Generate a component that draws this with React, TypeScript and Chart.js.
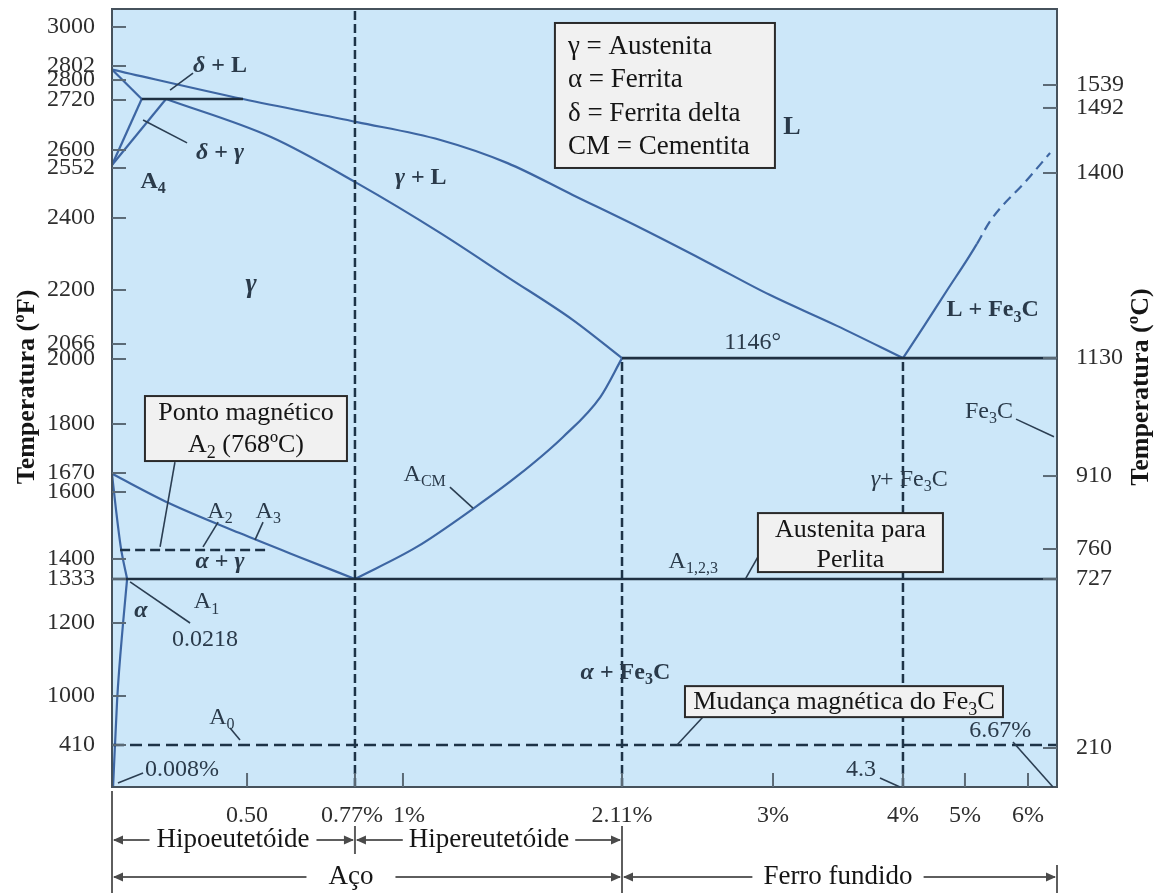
import React, { useEffect, useRef } from 'react';
import { Chart, registerables, LinearScale } from 'chart.js';

Chart.register(...registerables);

// ---------- Axis calibration: value -> fraction of the plot extent (the printed axes are not linear) ----------
const X_KNOT_VALUES = [0, 0.5, 0.77, 1, 2.11, 3, 4.3, 5, 6, 6.67];
const X_KNOT_FRACS = [0, 0.1429, 0.2571, 0.3079, 0.5397, 0.6995, 0.837, 0.9026, 0.9693, 1];
const YF_KNOT_VALUES = [0, 410, 1000, 1200, 1333, 1400, 1600, 1670, 1800, 2000, 2066, 2200, 2400, 2552, 2600, 2720, 2800, 2802, 3000, 3090];
const YF_KNOT_FRACS = [0, 0.054, 0.117, 0.2108, 0.2674, 0.2931, 0.3792, 0.4036, 0.4666, 0.5501, 0.5694, 0.6388, 0.7314, 0.7956, 0.8188, 0.883, 0.9087, 0.9267, 0.9769, 1];
const YC_KNOT_VALUES = [0, 210, 727, 760, 910, 1130, 1400, 1492, 1539, 1700];
const YC_KNOT_FRACS = [0, 0.0501, 0.2674, 0.3059, 0.3997, 0.5514, 0.7892, 0.8728, 0.9023, 1];

// ---------- Tick labels ----------
const X_TICK_VALUES = [0.5, 0.77, 1, 2.11, 3, 4.3, 5, 6];
const X_TICK_LABELS = ['0.50', '0.77% ', '  1%', '2.11%', '3%', '4%', '5%', '6%'];
const YF_TICKS = [410, 1000, 1200, 1333, 1400, 1600, 1670, 1800, 2000, 2066, 2200, 2400, 2552, 2600, 2720, 2800, 2802, 3000];
const YC_TICKS = [210, 727, 760, 910, 1130, 1400, 1492, 1539];

// ---------- Phase boundaries (carbon %, temperature °F) ----------
const liquidusC = [0, 0.485, 0.78, 1.19, 1.53, 1.86, 2.22, 2.61, 2.98, 3.64, 4.3];
const liquidusF = [2801.5, 2724, 2667, 2624, 2565, 2470, 2372, 2278, 2188, 2111, 2004];
const solidusC = [0.2, 0.56, 0.78, 1.19, 1.53, 1.86, 2.11];
const solidusF = [2724, 2631, 2506, 2358, 2236, 2126, 2004];
const deltaSolidusC = [0, 0.11];
const deltaSolidusF = [2801.5, 2724];
const peritecticC = [0.11, 0.485];
const peritecticF = [2724, 2724];
const deltaGammaC = [0, 0.11];
const deltaGammaF = [2560, 2724];
const gammaDeltaC = [0, 0.2];
const gammaDeltaF = [2560, 2724];
const a3C = [0, 0.21, 0.47, 0.63, 0.77];
const a3F = [1667, 1567, 1478, 1406, 1333];
const alphaGammaC = [0, 0.015, 0.033, 0.056];
const alphaGammaF = [1667, 1546, 1433, 1333];
const alphaSolvusC = [0.004, 0.019, 0.041, 0.056];
const alphaSolvusF = [0, 952, 1200, 1333];
const acmC = [0.77, 1.07, 1.36, 1.58, 1.81, 2.0, 2.11];
const acmF = [1333, 1436, 1552, 1659, 1765, 1883, 2004];
const cemLiqC = [4.3, 4.53, 4.8, 5.03, 5.19];
const cemLiqF = [2004, 2108, 2200, 2283, 2328];
const cemLiqDashC = [5.19, 5.41, 5.98, 6.51];
const cemLiqDashF = [2328, 2394, 2515, 2592];
const eutecticC = [2.11, 6.67];
const eutecticF = [2004, 2004];
const eutectoidC = [0, 6.67];
const eutectoidF = [1333, 1333];
const a2C = [0.03, 0.557];
const a2F = [1427, 1427];
const a0C = [0, 6.67];
const a0F = [410, 410];
const v077C = [0.77, 0.77];
const v077F = [0, 3090];
const v211C = [2.11, 2.11];
const v211F = [0, 2004];
const v43C = [4.3, 4.3];
const v43F = [0, 2004];

// ---------- Annotations (anchored in data units: carbon %, °F) ----------
type Lbl = { text: string; c: number; t: number; size: number; bold?: boolean };
const PHASE_LABELS: Lbl[] = [
  { text: '{i:δ} + L', c: 0.4, t: 2802, size: 24, bold: true },
  { text: '{i:δ} + {i:γ}', c: 0.4, t: 2593, size: 24, bold: true },
  { text: 'A{s:4}', c: 0.152, t: 2509, size: 24, bold: true },
  { text: '{i:γ}', c: 0.51, t: 2214, size: 27, bold: true },
  { text: '{i:γ} + L', c: 1.09, t: 2522, size: 24, bold: true },
  { text: 'L', c: 3.19, t: 2655, size: 26, bold: true },
  { text: '1146°', c: 2.88, t: 2068, size: 24 },
  { text: 'L + Fe{s:3}C', c: 5.44, t: 2150, size: 24, bold: true },
  { text: 'A{s:2}', c: 0.4, t: 1540, size: 24 },
  { text: 'A{s:3}', c: 0.553, t: 1540, size: 24 },
  { text: '{i:α} + {i:γ}', c: 0.4, t: 1390, size: 24, bold: true },
  { text: 'A{s:1}', c: 0.35, t: 1263, size: 24 },
  { text: '{i:α}', c: 0.107, t: 1236, size: 24, bold: true },
  { text: '0.0218', c: 0.344, t: 1153, size: 24 },
  { text: 'A{s:0}', c: 0.407, t: 735, size: 24 },
  { text: '0.008%', c: 0.259, t: 166, size: 24 },
  { text: 'A{s:CM}', c: 1.11, t: 1665, size: 24 },
  { text: '{i:γ}+ Fe{s:3}C', c: 4.37, t: 1646, size: 24 },
  { text: 'Fe{s:3}C', c: 5.38, t: 1837, size: 24 },
  { text: 'A{s:1,2,3}', c: 2.53, t: 1390, size: 24 },
  { text: '{i:α} + Fe{s:3}C', c: 2.13, t: 1063, size: 24, bold: true },
  { text: '6.67%', c: 5.56, t: 578, size: 24 },
  { text: '4.3', c: 3.88, t: 166, size: 24 },
];

const POINTERS: [number, number, number, number][] = [
  [0.215, 2760, 0.3, 2801],
  [0.115, 2672, 0.278, 2617],
  [0.233, 1699, 0.178, 1436],
  [0.393, 1510, 0.337, 1436],
  [0.54, 1510, 0.52, 1457],
  [0.067, 1324, 0.289, 1200],
  [0.437, 615, 0.474, 470],
  [0.022, 39, 0.115, 137],
  [1.238, 1618, 1.355, 1552],
  [5.81, 1815, 6.6, 1766],
  [2.84, 1336, 2.911, 1406],
  [2.587, 747, 2.434, 410],
  [5.762, 446, 6.577, 0],
  [4.07, 88, 4.27, 0],
];

type Box = { lines: string[]; c: number; t: number; w: number; h: number; align: 'left' | 'center'; size: number; first: number; gap: number };
const INFO_BOXES: Box[] = [
  { lines: ['γ = Austenita', 'α = Ferrita', 'δ = Ferrita delta', 'CM = Cementita'], c: 1.77, t: 3020, w: 220, h: 145, align: 'left', size: 27, first: 24, gap: 33.3 },
  { lines: ['Ponto magnético', 'A{s:2} (768ºC)'], c: 0.122, t: 1886, w: 202, h: 65, align: 'center', size: 26, first: 17, gap: 32 },
  { lines: ['Austenita para', 'Perlita'], c: 2.911, t: 1537, w: 185, h: 59, align: 'center', size: 26, first: 17, gap: 30 },
  { lines: ['Mudança magnética do Fe{s:3}C'], c: 2.481, t: 1027, w: 318, h: 31, align: 'center', size: 26, first: 16, gap: 0 },
];

const SPANS = [
  { from: 0, to: 0.77, at: 0.448, text: 'Hipoeutetóide', row: 0, gap: 7 },
  { from: 0.77, to: 2.11, at: 1.436, text: 'Hipereutetóide', row: 0, gap: 6 },
  { from: 0, to: 2.11, at: 0.76, text: 'Aço', row: 1, gap: 22 },
  { from: 2.11, to: 6.67, at: 3.65, text: 'Ferro fundido', row: 1, gap: 11 },
];
const SPAN_ROW_OFFSETS = [53, 90];

const SERIF = '"Liberation Serif", "Times New Roman", serif';
const BOUNDARY = '#3d66a3';
const DARK = '#1f3042';
const DASH = '#1d3347';

// ---------- Piecewise-linear scale ----------
const KNOTS: Record<string, { v: number[]; f: number[] }> = {
  x: { v: X_KNOT_VALUES, f: X_KNOT_FRACS },
  y: { v: YF_KNOT_VALUES, f: YF_KNOT_FRACS },
  y2: { v: YC_KNOT_VALUES, f: YC_KNOT_FRACS },
};

function interp(xs: number[], ys: number[], v: number): number {
  const n = xs.length;
  let i = 0;
  if (v >= xs[n - 1]) i = n - 2;
  else while (i < n - 2 && v > xs[i + 1]) i++;
  const t = (v - xs[i]) / (xs[i + 1] - xs[i]);
  return ys[i] + t * (ys[i + 1] - ys[i]);
}

class PiecewiseScale extends (LinearScale as any) {
  static id = 'piecewise';
  static defaults = {};
  getPixelForValue(value: number) {
    const k = KNOTS[(this as any).id];
    if (!k || value === null || value === undefined || isNaN(value)) return NaN;
    return (this as any).getPixelForDecimal(interp(k.v, k.f, value));
  }
  getValueForPixel(pixel: number) {
    const k = KNOTS[(this as any).id];
    return interp(k.f, k.v, (this as any).getDecimalForPixel(pixel));
  }
}
Chart.register(PiecewiseScale as any);

// ---------- helpers ----------
function parseRich(s: string) {
  const out: { t: string; k: string }[] = [];
  const re = /\{([is]):([^}]*)\}/g;
  let last = 0;
  let m: RegExpExecArray | null;
  while ((m = re.exec(s))) {
    if (m.index > last) out.push({ t: s.slice(last, m.index), k: '' });
    out.push({ t: m[2], k: m[1] });
    last = re.lastIndex;
  }
  if (last < s.length) out.push({ t: s.slice(last), k: '' });
  return out;
}

function drawRich(ctx: CanvasRenderingContext2D, s: string, x: number, y: number, size: number, bold: boolean, color: string, align: 'left' | 'center') {
  const segs = parseRich(s);
  const w = bold ? 'bold ' : '';
  const fontFor = (k: string) => `${k === 'i' ? 'italic ' : ''}${w}${k === 's' ? Math.round(size * 0.68) : size}px ${SERIF}`;
  let total = 0;
  const widths = segs.map((sg) => {
    ctx.font = fontFor(sg.k);
    const ww = ctx.measureText(sg.t).width;
    total += ww;
    return ww;
  });
  let cx = align === 'center' ? x - total / 2 : x;
  ctx.textAlign = 'left';
  ctx.textBaseline = 'middle';
  ctx.fillStyle = color;
  segs.forEach((sg, i) => {
    ctx.font = fontFor(sg.k);
    ctx.fillText(sg.t, cx, y + (sg.k === 's' ? size * 0.3 : 0));
    cx += widths[i];
  });
}

function seg(ctx: CanvasRenderingContext2D, x1: number, y1: number, x2: number, y2: number) {
  ctx.beginPath();
  ctx.moveTo(x1, y1);
  ctx.lineTo(x2, y2);
  ctx.stroke();
}

const diagramPlugin = {
  id: 'diagram',
  beforeDraw(chart: any) {
    const { ctx, chartArea: a } = chart;
    ctx.save();
    ctx.fillStyle = '#ffffff';
    ctx.fillRect(0, 0, chart.width, chart.height);
    ctx.fillStyle = '#cce7f9';
    ctx.fillRect(a.left, a.top, a.right - a.left, a.bottom - a.top);
    ctx.restore();
  },
  afterDatasetsDraw(chart: any) {
    const { ctx, chartArea: a } = chart;
    const xS = chart.scales.x, yS = chart.scales.y, y2S = chart.scales.y2;
    const px = (c: number) => xS.getPixelForValue(c);
    const py = (t: number) => yS.getPixelForValue(t);
    ctx.save();
    // frame
    ctx.strokeStyle = '#46525c';
    ctx.lineWidth = 2;
    ctx.strokeRect(a.left, a.top, a.right - a.left, a.bottom - a.top);
    // inward tick marks
    ctx.strokeStyle = '#5b6a76';
    ctx.lineWidth = 2;
    yS.ticks.forEach((t: any) => { const p = yS.getPixelForValue(t.value); seg(ctx, a.left, p, a.left + 14, p); });
    y2S.ticks.forEach((t: any) => { const p = y2S.getPixelForValue(t.value); seg(ctx, a.right - 14, p, a.right, p); });
    xS.ticks.forEach((t: any) => { const p = xS.getPixelForValue(t.value); seg(ctx, p, a.bottom - 14, p, a.bottom); });
    // pointer lines
    ctx.strokeStyle = '#2b3e52';
    ctx.lineWidth = 1.6;
    POINTERS.forEach(([c1, t1, c2, t2]) => seg(ctx, px(c1), py(t1), px(c2), py(t2)));
    // phase labels
    PHASE_LABELS.forEach((l) => drawRich(ctx, l.text, px(l.c), py(l.t), l.size, !!l.bold, '#2a3a4a', 'center'));
    // info boxes
    INFO_BOXES.forEach((b) => {
      const x0 = px(b.c), y0 = py(b.t);
      ctx.fillStyle = '#f1f1f1';
      ctx.fillRect(x0, y0, b.w, b.h);
      ctx.strokeStyle = '#2a2a2a';
      ctx.lineWidth = 2;
      ctx.strokeRect(x0, y0, b.w, b.h);
      b.lines.forEach((ln, i) => {
        const tx = b.align === 'left' ? x0 + 13 : x0 + b.w / 2;
        drawRich(ctx, ln, tx, y0 + b.first + i * b.gap, b.size, false, '#151515', b.align);
      });
    });
    // bottom spans
    const H = chart.height;
    const bars: Record<string, { x: number; top: number; bot: number }> = {};
    const addBar = (x: number, top: number, bot: number) => {
      const k = x.toFixed(1);
      if (!bars[k]) bars[k] = { x, top, bot };
      else { bars[k].top = Math.min(bars[k].top, top); bars[k].bot = Math.max(bars[k].bot, bot); }
    };
    SPANS.forEach((s) => {
      const y = a.bottom + SPAN_ROW_OFFSETS[s.row];
      const x0 = px(s.from), x1 = px(s.to), xc = px(s.at);
      ctx.font = `27px ${SERIF}`;
      const w = ctx.measureText(s.text).width;
      ctx.fillStyle = '#151515';
      ctx.textAlign = 'center';
      ctx.textBaseline = 'middle';
      ctx.fillText(s.text, xc, y);
      ctx.strokeStyle = '#5e5e5e';
      ctx.fillStyle = '#4a4a4a';
      ctx.lineWidth = 2;
      seg(ctx, x0 + 2, y, xc - w / 2 - s.gap, y);
      seg(ctx, xc + w / 2 + s.gap, y, x1 - 2, y);
      ctx.beginPath(); ctx.moveTo(x0 + 1, y); ctx.lineTo(x0 + 11, y - 4.5); ctx.lineTo(x0 + 11, y + 4.5); ctx.closePath(); ctx.fill();
      ctx.beginPath(); ctx.moveTo(x1 - 1, y); ctx.lineTo(x1 - 11, y - 4.5); ctx.lineTo(x1 - 11, y + 4.5); ctx.closePath(); ctx.fill();
      const top = s.row === 0 ? y - 14 : y - 12;
      const bot = s.row === 0 ? y + 14 : H;
      addBar(x0, top, bot);
      addBar(x1, top, bot);
    });
    ctx.strokeStyle = '#5e5e5e';
    ctx.lineWidth = 2;
    Object.values(bars).forEach((b) => seg(ctx, b.x, b.top, b.x, b.bot));
    seg(ctx, px(0), a.bottom + 4, px(0), H);
    // axis titles (both read bottom-to-top)
    const cy = (a.top + a.bottom) / 2 - 11;
    [['Temperatura (ºF)', 27], ['Temperatura (ºC)', chart.width - 20]].forEach(([txt, x]) => {
      ctx.save();
      ctx.translate(x as number, cy);
      ctx.rotate(-Math.PI / 2);
      ctx.font = `bold 26px ${SERIF}`;
      ctx.fillStyle = '#151515';
      ctx.textAlign = 'center';
      ctx.textBaseline = 'middle';
      ctx.fillText(txt as string, 0, 0);
      ctx.restore();
    });
    ctx.restore();
  },
};

function line(C: number[], F: number[], color: string, width: number, opts: any = {}) {
  return {
    data: C.map((c, i) => ({ x: c, y: F[i] })),
    showLine: true,
    pointRadius: 0,
    borderColor: color,
    borderWidth: width,
    fill: false,
    tension: 0,
    ...opts,
  };
}

const SMOOTH = { cubicInterpolationMode: 'monotone' };

export default function App() {
  const ref = useRef<HTMLCanvasElement | null>(null);
  useEffect(() => {
    if (!ref.current) return;
    const tickFont = { family: SERIF, size: 24 };
    const datasets = [
      line(v077C, v077F, DASH, 2.5, { borderDash: [9, 4] }),
      line(v211C, v211F, DASH, 2.5, { borderDash: [9, 4] }),
      line(v43C, v43F, DASH, 2.5, { borderDash: [9, 4] }),
      line(a0C, a0F, DASH, 2.5, { borderDash: [12, 6] }),
      line(a2C, a2F, DASH, 2.5, { borderDash: [10, 5] }),
      line(eutecticC, eutecticF, DARK, 2.6),
      line(eutectoidC, eutectoidF, DARK, 2.6),
      line(peritecticC, peritecticF, DARK, 2.6),
      line(liquidusC, liquidusF, BOUNDARY, 2.2, SMOOTH),
      line(solidusC, solidusF, BOUNDARY, 2.2, SMOOTH),
      line(deltaSolidusC, deltaSolidusF, BOUNDARY, 2.2),
      line(deltaGammaC, deltaGammaF, BOUNDARY, 2.2),
      line(gammaDeltaC, gammaDeltaF, BOUNDARY, 2.2),
      line(a3C, a3F, BOUNDARY, 2.2, SMOOTH),
      line(alphaGammaC, alphaGammaF, BOUNDARY, 2.2, SMOOTH),
      line(alphaSolvusC, alphaSolvusF, BOUNDARY, 2.2, SMOOTH),
      line(acmC, acmF, BOUNDARY, 2.2, SMOOTH),
      line(cemLiqC, cemLiqF, BOUNDARY, 2.2, SMOOTH),
      line(cemLiqDashC, cemLiqDashF, BOUNDARY, 2.2, { ...SMOOTH, borderDash: [10, 6] }),
    ];
    const chart = new Chart(ref.current, {
      type: 'scatter',
      data: { datasets },
      plugins: [diagramPlugin],
      options: {
        responsive: false,
        devicePixelRatio: 1,
        animation: false,
        events: [],
        layout: { padding: { top: 9, left: 0, right: 0, bottom: 0 } },
        plugins: { legend: { display: false }, tooltip: { enabled: false } },
        scales: {
          x: {
            type: 'piecewise',
            position: 'bottom',
            min: 0,
            max: 6.67,
            grid: { display: false },
            border: { display: false },
            ticks: { autoSkip: false, maxRotation: 0, padding: 6, font: tickFont, color: '#2e2e2e', callback: (_v: any, i: number) => X_TICK_LABELS[i] },
            afterBuildTicks: (s: any) => { s.ticks = X_TICK_VALUES.map((v) => ({ value: v })); },
            afterFit: (s: any) => { s.height = 106; s.paddingLeft = 0; s.paddingRight = 0; },
          },
          y: {
            type: 'piecewise',
            position: 'left',
            min: 0,
            max: 3090,
            grid: { display: false },
            border: { display: false },
            ticks: { autoSkip: false, padding: 9, font: tickFont, color: '#2e2e2e', callback: (_v: any, i: number) => String(YF_TICKS[i]) },
            afterBuildTicks: (s: any) => { s.ticks = YF_TICKS.map((v) => ({ value: v })); },
            afterFit: (s: any) => { s.width = 112; s.paddingTop = 0; s.paddingBottom = 0; },
          },
          y2: {
            type: 'piecewise',
            position: 'right',
            min: 0,
            max: 1700,
            grid: { display: false },
            border: { display: false },
            ticks: { autoSkip: false, padding: 11, font: tickFont, color: '#2e2e2e', callback: (_v: any, i: number) => String(YC_TICKS[i]) },
            afterBuildTicks: (s: any) => { s.ticks = YC_TICKS.map((v) => ({ value: v })); },
            afterFit: (s: any) => { s.width = 104; s.paddingTop = 0; s.paddingBottom = 0; },
          },
        } as any,
      },
    } as any);
    return () => chart.destroy();
  }, []);
  return (
    <div style={{ position: 'absolute', left: 0, top: 0, width: 1161, height: 893, background: '#fff' }}>
      <canvas ref={ref} width={1161} height={893} style={{ display: 'block', width: 1161, height: 893 }} />
    </div>
  );
}
